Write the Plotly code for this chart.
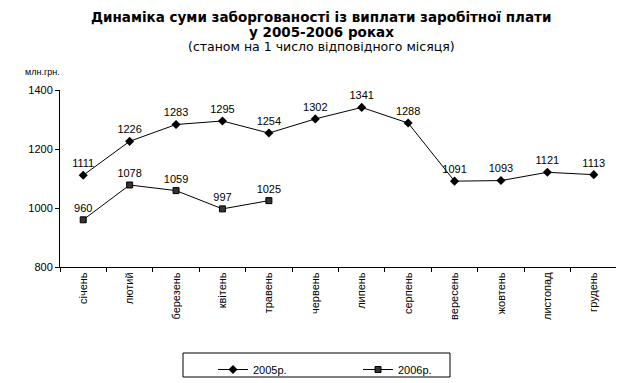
import plotly.graph_objects as go

months = ["січень", "лютий", "березень", "квітень", "травень", "червень",
          "липень", "серпень", "вересень", "жовтень", "листопад", "грудень"]
y2005 = [1111, 1226, 1283, 1295, 1254, 1302, 1341, 1288, 1091, 1093, 1121, 1113]
y2006 = [960, 1078, 1059, 997, 1025]
y_ticks = [800, 1000, 1200, 1400]

FONT = "Liberation Sans, Arial, sans-serif"
TFONT = "DejaVu Sans, Verdana, sans-serif"
OFF = 8  # page body margin offset
W, H = 624 - OFF, 383 - OFF
ML, MR, MT, MB = 60 - OFF, 7, 90 - OFF, 116

fig = go.Figure()
fig.add_trace(go.Scatter(
    x=months, y=y2005, name="2005р.", mode="lines+markers+text",
    text=[str(v) for v in y2005], textposition="top center",
    textfont=dict(family=FONT, size=11, color="black"),
    line=dict(color="black", width=1),
    marker=dict(symbol="diamond", size=7, color="black"),
    cliponaxis=False,
))
fig.add_trace(go.Scatter(
    x=months[:len(y2006)], y=y2006, name="2006р.", mode="lines+markers+text",
    text=[str(v) for v in y2006], textposition="top center",
    textfont=dict(family=FONT, size=11, color="black"),
    line=dict(color="black", width=1),
    marker=dict(symbol="square", size=6, color="#333333", line=dict(color="black", width=1)),
    cliponaxis=False,
))

plot_h = H - MT - MB
plot_w = W - ML - MR
def px(xs):
    return (xs - OFF - ML) / plot_w
def py(ys):
    return (H - MB - (ys - OFF)) / plot_h

fig.update_layout(
    width=W, height=H,
    margin=dict(l=ML, r=MR, t=MT, b=MB, autoexpand=False),
    paper_bgcolor="white", plot_bgcolor="white",
    font=dict(family=FONT, size=11, color="black"),
    showlegend=True,
    legend=dict(
        orientation="h", x=px(213), y=py(355), xanchor="left", yanchor="top",
        borderwidth=0, bgcolor="rgba(0,0,0,0)",
        entrywidth=100, entrywidthmode="pixels",
        font=dict(family=FONT, size=11, color="black"),
        itemwidth=30,
    ),
    xaxis=dict(
        type="category", categoryorder="array", categoryarray=months,
        showline=True, linecolor="black", linewidth=1,
        ticks="outside", ticklen=4, tickcolor="black",
        tickson="boundaries", tickangle=-90, automargin=False,
        showgrid=False, zeroline=False, range=[-0.5, 11.5],
        tickfont=dict(family=FONT, size=11, color="black"),
    ),
    yaxis=dict(
        range=[800, 1400], tickvals=y_ticks, automargin=False,
        showline=True, linecolor="black", linewidth=1,
        ticks="outside", ticklen=4, tickcolor="black",
        showgrid=False, zeroline=False,
        tickfont=dict(family=FONT, size=11, color="black"),
    ),
)
fig.add_shape(type="rect", xref="paper", yref="paper",
              x0=px(183), x1=px(450), y0=py(353), y1=py(377),
              line=dict(color="black", width=1), fillcolor="rgba(0,0,0,0)")
fig.add_annotation(text="<b>Динаміка суми заборгованості із виплати заробітної плати</b>",
                   x=px(321), y=py(17), xref="paper", yref="paper", showarrow=False,
                   xanchor="center", yanchor="middle",
                   font=dict(family=TFONT, size=13.5, color="black"))
fig.add_annotation(text="<b>у 2005-2006 роках</b>",
                   x=px(321), y=py(32), xref="paper", yref="paper", showarrow=False,
                   xanchor="center", yanchor="middle",
                   font=dict(family=TFONT, size=13.5, color="black"))
fig.add_annotation(text="(станом на 1 число відповідного місяця)",
                   x=px(321), y=py(47), xref="paper", yref="paper", showarrow=False,
                   xanchor="center", yanchor="middle",
                   font=dict(family=TFONT, size=12.5, color="black"))
fig.add_annotation(text="млн.грн.",
                   x=px(23), y=py(72), xref="paper", yref="paper", showarrow=False,
                   xanchor="left", yanchor="middle",
                   font=dict(family=FONT, size=9, color="black"))

fig.write_html("out.html")
